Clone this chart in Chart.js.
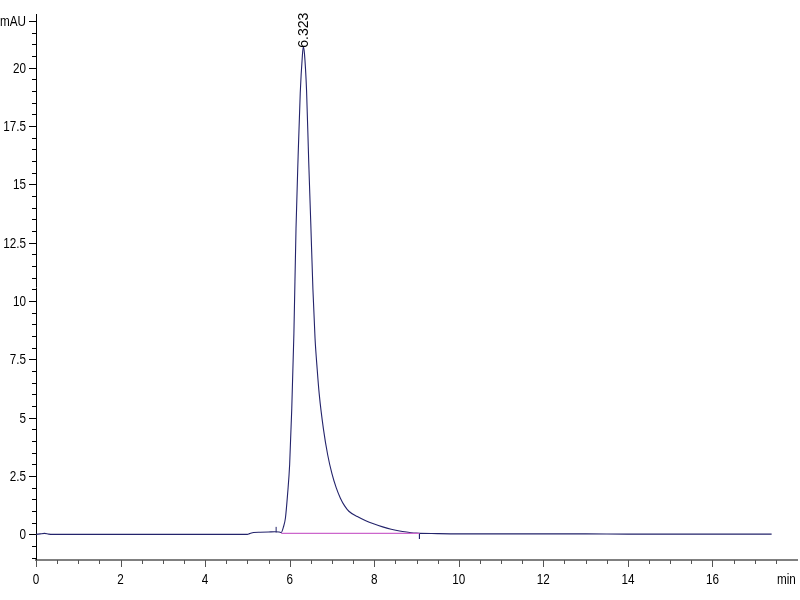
<!DOCTYPE html>
<html>
<head>
<meta charset="utf-8">
<script src="https://cdn.jsdelivr.net/npm/chart.js@4"></script>
<style>
  html, body { margin: 0; padding: 0; background: #fff; }
  #wrap { width: 800px; height: 600px; }
</style>
</head>
<body>
<div id="wrap"><canvas id="chrom" width="800" height="600"></canvas></div>
<script>
// retention time (min) and absorbance (mAU)
const times = [0, 0.1, 0.2, 0.3, 0.4, 1.0, 2.0, 3.0, 4.0, 5.0, 5.05, 5.15, 5.3, 5.5, 5.65, 5.75,
  5.8, 5.85, 5.9, 5.95, 6.0, 6.05, 6.1, 6.15, 6.2, 6.25, 6.3, 6.323, 6.35, 6.4, 6.45, 6.5,
  6.55, 6.6, 6.65, 6.7, 6.8, 6.9, 7.0, 7.1, 7.2, 7.3, 7.4, 7.6, 7.8, 8.0, 8.2, 8.4, 8.6,
  8.8, 9.0, 9.5, 10, 11, 12, 13, 14, 15, 16, 17, 17.4];
const mAU = [0, 0.02, 0.04, 0.01, 0, 0, 0, 0, 0, 0, 0.03, 0.08, 0.09, 0.1, 0.11, 0.1,
  0.08, 0.3, 0.7, 1.7, 3.0, 5.4, 8.6, 13.1, 16.2, 18.9, 20.5, 20.9, 20.6, 19.0, 16.0, 13.3,
  10.5, 8.4, 7.1, 6.0, 4.5, 3.4, 2.6, 2.0, 1.55, 1.22, 0.99, 0.76, 0.58, 0.44, 0.32, 0.22, 0.14,
  0.09, 0.05, 0.03, 0.02, 0.02, 0.02, 0.02, 0.01, 0.01, 0.01, 0.01, 0.01];

// integration baseline under the peak, and its start / end markers
const baseTimes = [5.8, 9.07];
const baseValues = [0.04, 0.04];
const markTimes = [5.68, 5.68, null, 9.07, 9.07];
const markValues = [0.08, 0.32, null, 0.04, -0.2];

const peakLabel = "6.323";

const yTickValues = [0, 2.5, 5, 7.5, 10, 12.5, 15, 17.5, 20];
const yTickLabels = ["0", "2.5", "5", "7.5", "10", "12.5", "15", "17.5", "20"];
const yUnit = "mAU";
const yUnitAt = 22;
const xTickValues = [0, 2, 4, 6, 8, 10, 12, 14, 16];
const xTickLabels = ["0", "2", "4", "6", "8", "10", "12", "14", "16"];
const xUnit = "min";
const xUnitAt = 17.75;

const FONT = '"Liberation Sans", Arial, sans-serif';
const SQUEEZE = 0.78;

function minorTicks(from, to) {
  const out = [];
  for (let i = from * 2; i <= to * 2; i++) out.push({ value: i / 2 });
  return out;
}

// narrow text like the instrument software prints
function narrowText(ctx, text, x, y, align, baseline) {
  ctx.save();
  ctx.translate(x, y);
  ctx.scale(SQUEEZE, 1);
  ctx.textAlign = align;
  ctx.textBaseline = baseline;
  ctx.fillText(text, 0, 0);
  ctx.restore();
}

const axisTicks = {
  id: "axisTicks",
  afterDraw(chart) {
    const { ctx, scales: { x, y } } = chart;
    ctx.save();
    ctx.lineWidth = 1;
    ctx.strokeStyle = "#000";
    y.ticks.forEach(t => {
      const major = yTickValues.includes(t.value) || t.value === yUnitAt;
      const py = Math.round(y.getPixelForValue(t.value)) + 0.5;
      ctx.beginPath();
      ctx.moveTo(y.right - (major ? 7 : 4), py);
      ctx.lineTo(y.right, py);
      ctx.stroke();
    });
    ctx.strokeStyle = "#555";
    x.ticks.forEach(t => {
      const major = xTickValues.includes(t.value);
      const px = Math.round(x.getPixelForValue(t.value)) + 0.5;
      ctx.beginPath();
      ctx.moveTo(px, x.top);
      ctx.lineTo(px, x.top + (major ? 7 : 4));
      ctx.stroke();
    });

    ctx.fillStyle = "#000";
    ctx.font = "15px " + FONT;
    yTickValues.forEach((v, k) => {
      narrowText(ctx, yTickLabels[k], y.right - 10, y.getPixelForValue(v) + 1, "right", "middle");
    });
    narrowText(ctx, yUnit, y.right - 10, y.getPixelForValue(yUnitAt) + 1, "right", "middle");
    xTickValues.forEach((v, k) => {
      narrowText(ctx, xTickLabels[k], x.getPixelForValue(v), x.top + 12, "center", "top");
    });
    narrowText(ctx, xUnit, x.getPixelForValue(xUnitAt), x.top + 12, "center", "top");

    // peak label, rotated
    const i = mAU.indexOf(Math.max(...mAU));
    const px = x.getPixelForValue(times[i]);
    const py = y.getPixelForValue(mAU[i]);
    ctx.translate(px + 1, py + 1);
    ctx.rotate(-Math.PI / 2);
    ctx.font = "14px " + FONT;
    ctx.textAlign = "left";
    ctx.textBaseline = "middle";
    ctx.fillText(peakLabel, 0, 0);
    ctx.restore();
  }
};

new Chart(document.getElementById("chrom"), {
  type: "line",
  data: {
    datasets: [
      {
        data: baseTimes.map((t, i) => ({ x: t, y: baseValues[i] })),
        borderColor: "#cc66cc",
        borderWidth: 1.3,
        pointRadius: 0,
        fill: false
      },
      {
        data: times.map((t, i) => ({ x: t, y: mAU[i] })),
        borderColor: "#23236b",
        borderWidth: 1.1,
        pointRadius: 0,
        cubicInterpolationMode: "monotone",
        fill: false
      },
      {
        data: markTimes.map((t, i) => ({ x: t, y: markValues[i] })),
        borderColor: "#23236b",
        borderWidth: 1,
        pointRadius: 0,
        spanGaps: false,
        fill: false
      }
    ]
  },
  options: {
    responsive: false,
    animation: false,
    layout: { padding: { top: 14, right: 3, left: 0, bottom: 0 } },
    plugins: { legend: { display: false }, tooltip: { enabled: false } },
    scales: {
      x: {
        type: "linear",
        min: 0,
        max: 18,
        afterFit: s => { s.height = 40; },
        afterBuildTicks: s => { s.ticks = minorTicks(0, 17.5); },
        grid: { drawOnChartArea: false, drawTicks: false, color: "transparent" },
        border: { display: true, color: "#808080", width: 2 },
        ticks: { display: false }
      },
      y: {
        type: "linear",
        min: -1.1,
        max: 22.3,
        afterFit: s => { s.width = 36; },
        afterBuildTicks: s => { s.ticks = minorTicks(-1, 22); },
        grid: { drawOnChartArea: false, drawTicks: false, color: "transparent" },
        border: { display: true, color: "#000", width: 1 },
        ticks: { display: false }
      }
    }
  },
  plugins: [axisTicks]
});
</script>
</body>
</html>
